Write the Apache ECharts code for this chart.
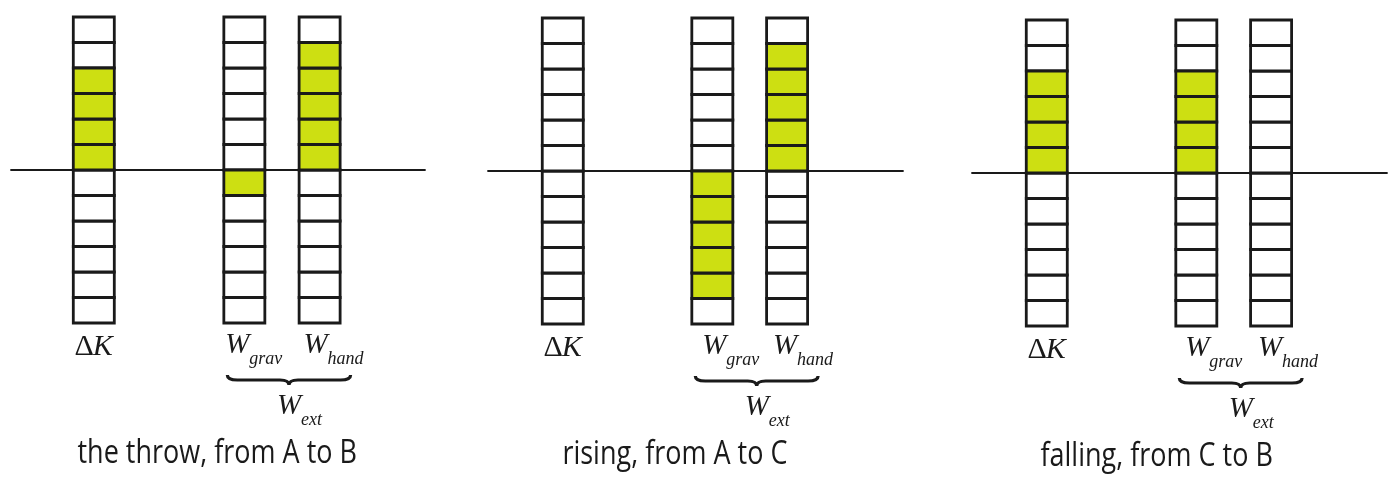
<!DOCTYPE html>
<html><head><meta charset="utf-8">
<script src="https://cdn.jsdelivr.net/npm/echarts@6/dist/echarts.min.js"></script>
<style>html,body{margin:0;padding:0;background:#fff}#c{width:1400px;height:480px}</style>
</head><body><div id="c"></div>
<script>
// ---- data ----
const panelTitles = ['the throw, from A to B', 'rising, from A to C', 'falling, from C to B'];
const columnNames = ['ΔK', 'W_grav', 'W_hand'];
const columnX = [0, 2, 3];
const deltaK = [4, 0, 4];
const wGrav = [-1, -5, 4];
const wHand = [5, 5, 0];
const cellsBelow = 6;
const cellsAbove = 6;

// ---- layout / style ----
const GREEN = '#cddf12';
const INK = '#1a1a1a';
const SERIF = '"Liberation Serif", "DejaVu Serif", serif';
const SANS = '"Open Sans", "Noto Sans", sans-serif';
const layout = [
  { left: 11,  width: 414, top: 17, xMin: -1.1, xMax: 4.4,  titleX: 1.64, gravOff: -19, handOff: -16 },
  { left: 488, width: 415, top: 18, xMin: -1.0, xMax: 4.55, titleX: 1.50, gravOff: -10, handOff: -14 },
  { left: 972, width: 415, top: 20, xMin: -1.0, xMax: 4.55, titleX: 1.47, gravOff: -11, handOff: -13 }
];
const GRID_H = 306;
const MID = 0.3375;     // middle-baseline offset factor (serif)
const MID_SANS = 0.388; // middle-baseline offset factor (sans)

const values = [deltaK, wGrav, wHand];

function txt(x, baseline, text, size, italic, family, scaleY, align, mid, weight) {
  return {
    type: 'text', x: x, y: baseline - mid * size * scaleY, scaleY: scaleY,
    style: {
      text: text, fill: INK,
      font: (italic ? 'italic ' : '') + (weight || 'normal') + ' ' + size + 'px ' + family,
      align: align, textAlign: align, verticalAlign: 'middle', textVerticalAlign: 'middle'
    }
  };
}

function renderCell(params, api) {
  const x = api.value(0), lo = api.value(1), filled = api.value(2);
  const a = api.coord([x, lo]), b = api.coord([x, lo + 1]);
  const w = 41;
  return {
    type: 'rect',
    shape: { x: a[0] - w / 2, y: b[1], width: w, height: a[1] - b[1] },
    style: { fill: filled ? GREEN : '#fff', stroke: INK, lineWidth: 2.8 }
  };
}

function makeLabelRenderer(L) {
  return function (params, api) {
    const x = api.value(0), c = api.value(1);
    const p = api.coord([x, -cellsBelow]);
    const cx = p[0], b = p[1];
    const name = columnNames[c];
    if (name === 'ΔK') {
      return { type: 'group', children: [
        txt(cx, b + 34, 'Δ', 30, false, SERIF, 1.0, 'right', MID),
        txt(cx - 1, b + 34, 'K', 30, true, SERIF, 1.0, 'left', MID)
      ]};
    }
    const parts = name.split('_');
    const off = parts[1] === 'grav' ? L.gravOff : L.handOff;
    return { type: 'group', children: [
      txt(cx + off, b + 32, parts[0], 29, true, SERIF, 1.0, 'left', MID),
      txt(cx + off + 24, b + 42, parts[1], 18, true, SERIF, 1.0, 'left', MID)
    ]};
  };
}

function renderPanelText(params, api) {
  const tx = api.value(0), idx = api.value(1);
  const g = api.coord([columnX[1], -cellsBelow]);
  const h = api.coord([columnX[2], -cellsBelow]);
  const t = api.coord([tx, -cellsBelow]);
  const b = g[1];
  const xl = g[0] - 17, xr = h[0] + 31, xm = (xl + xr) / 2;
  const y0 = b + 52, y1 = b + 57, y2 = b + 62;
  const d = 'M' + xl + ' ' + y0 + ' Q' + xl + ' ' + y1 + ' ' + (xl + 10) + ' ' + y1 +
    ' L' + (xm - 9) + ' ' + y1 + ' Q' + xm + ' ' + y1 + ' ' + xm + ' ' + y2 +
    ' Q' + xm + ' ' + y1 + ' ' + (xm + 9) + ' ' + y1 +
    ' L' + (xr - 10) + ' ' + y1 + ' Q' + xr + ' ' + y1 + ' ' + xr + ' ' + y0;
  return { type: 'group', children: [
    { type: 'path', shape: { pathData: d }, style: { fill: 'none', stroke: INK, lineWidth: 3.2 } },
    txt(xm - 12, b + 93, 'W', 29, true, SERIF, 1.0, 'left', MID),
    txt(xm + 12, b + 103, 'ext', 18, true, SERIF, 1.0, 'left', MID),
    txt(t[0], b + 143, panelTitles[idx], 27, false, SANS, 1.22, 'center', MID_SANS, 500)
  ]};
}

const grids = [], xAxes = [], yAxes = [], series = [];
layout.forEach((L, p) => {
  grids.push({ left: L.left, width: L.width, top: L.top, height: GRID_H });
  xAxes.push({
    gridIndex: p, type: 'value', min: L.xMin, max: L.xMax,
    axisLine: { show: true, onZero: true, lineStyle: { color: INK, width: 1.8 } },
    axisTick: { show: false }, axisLabel: { show: false }, splitLine: { show: false }
  });
  yAxes.push({
    gridIndex: p, type: 'value', min: -cellsBelow, max: cellsAbove, show: false,
    splitLine: { show: false }
  });
  const cells = [];
  columnX.forEach((cx, c) => {
    const v = values[c][p];
    for (let k = -cellsBelow; k < cellsAbove; k++) {
      const filled = v > 0 ? (k >= 0 && k < v) : (k < 0 && k >= v);
      cells.push([cx, k, filled ? 1 : 0]);
    }
  });
  cells.sort((a, b) => a[2] - b[2]);
  series.push({
    type: 'custom', xAxisIndex: p, yAxisIndex: p, renderItem: renderCell,
    data: cells, silent: true, animation: false, z: 3
  });
  series.push({
    type: 'custom', xAxisIndex: p, yAxisIndex: p, renderItem: makeLabelRenderer(L),
    data: columnX.map((cx, c) => [cx, c]), silent: true, animation: false, z: 4
  });
  series.push({
    type: 'custom', xAxisIndex: p, yAxisIndex: p, renderItem: renderPanelText,
    data: [[L.titleX, p]], silent: true, animation: false, z: 4
  });
});

const chart = echarts.init(document.getElementById('c'), null, { renderer: 'canvas' });
chart.setOption({
  backgroundColor: '#fff',
  animation: false,
  grid: grids, xAxis: xAxes, yAxis: yAxes, series: series
});
</script>
</body></html>
